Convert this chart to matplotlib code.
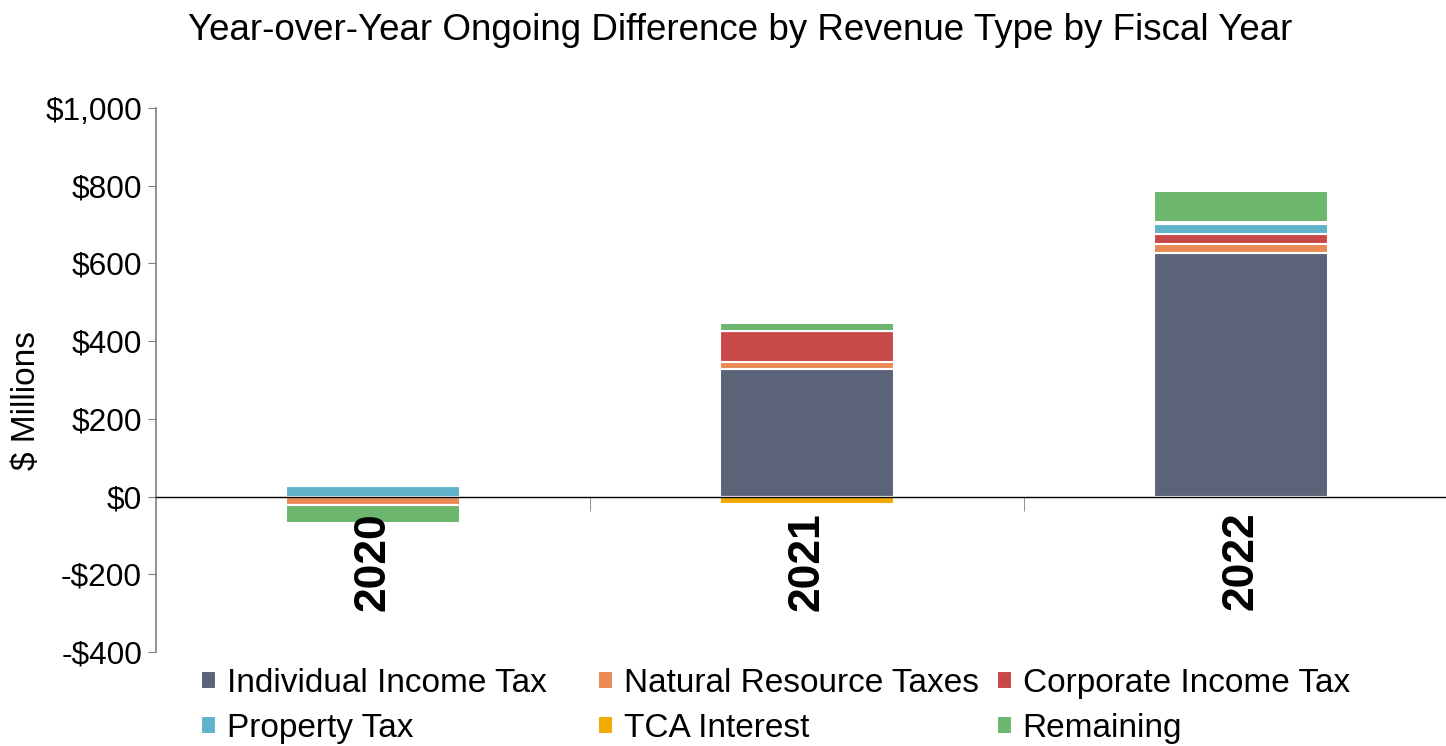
import numpy as np
import matplotlib.pyplot as plt

plt.rcParams['font.family'] = ['Liberation Sans', 'DejaVu Sans']

years = ['2020', '2021', '2022']
series = ['Individual Income Tax', 'Natural Resource Taxes', 'Corporate Income Tax',
          'Property Tax', 'TCA Interest', 'Remaining']
colors = ['#5A6378', '#E98A54', '#C84A48', '#60B3CB', '#F2AA00', '#6CB66E']

# $ millions, change vs prior year
individual = [0, 328, 626]
natural_res = [-22, 18, 25]
corporate = [0, 80, 25]
property_tax = [27, 0, 26]
tca_interest = [0, -18, 5]
remaining = [-47, 20, 79]

values = [individual, natural_res, corporate, property_tax, tca_interest, remaining]

W, H = 1446, 746
fig = plt.figure(figsize=(W / 100, H / 100), dpi=100)
ax = fig.add_axes([156 / W, 94 / H, 1302 / W, 544 / H])

x = np.arange(len(years))
pos_base = np.zeros(len(years))
neg_base = np.zeros(len(years))
handles = []
for name, vals, c in zip(series, values, colors):
    v = np.array(vals, dtype=float)
    bottom = np.where(v >= 0, pos_base, neg_base)
    h = ax.bar(x, v, width=0.4, bottom=bottom, color=c, edgecolor='white',
               linewidth=1.5, label=name)
    handles.append(h)
    pos_base += np.where(v >= 0, v, 0)
    neg_base += np.where(v < 0, v, 0)

ax.set_xlim(-0.5, 2.5)
ax.set_ylim(-400, 1000)
yt = list(range(-400, 1001, 200))
ax.set_yticks(yt)
ax.set_yticklabels([f'-${abs(t):,}' if t < 0 else f'${t:,}' for t in yt], fontsize=22.8)
ax.tick_params(axis='y', direction='out', length=6, color='#808080', pad=4)

# category axis sits on the zero line
ax.spines['bottom'].set_position(('data', 0))
ax.spines['bottom'].set_color('black')
ax.spines['bottom'].set_linewidth(1)
ax.spines['top'].set_visible(False)
ax.spines['right'].set_visible(False)
ax.spines['left'].set_color('#808080')
ax.spines['left'].set_linewidth(1.2)
ax.set_xticks(x)
ax.set_xticklabels(years, rotation=90, fontsize=32, fontweight='bold', va='top')
ax.tick_params(axis='x', which='major', length=0, pad=11)
ax.set_xticks([0.5, 1.5], minor=True)
ax.tick_params(axis='x', which='minor', direction='out', length=10, color='#808080')

fig.text(27 / W, 1 - 400 / H, '$ Millions', rotation=90, fontsize=24,
         ha='center', va='center')
fig.text(740 / W, 1 - 40 / H,
         'Year-over-Year Ongoing Difference by Revenue Type by Fiscal Year',
         fontsize=26.5, ha='center', va='baseline')

# legend laid out as three fixed columns, two rows each
col_x = [201, 598, 997]
for k, cx in enumerate(col_x):
    idx = [k, k + 3]
    fig.legend([handles[i] for i in idx], [series[i] for i in idx],
               loc='upper left', bbox_to_anchor=(cx / W, 1 - 668 / H),
               frameon=False, fontsize=24, borderpad=0, borderaxespad=0,
               handlelength=0.45, handleheight=0.45, handletextpad=0.32,
               labelspacing=0.42)

fig.savefig('out.png', dpi=100)
